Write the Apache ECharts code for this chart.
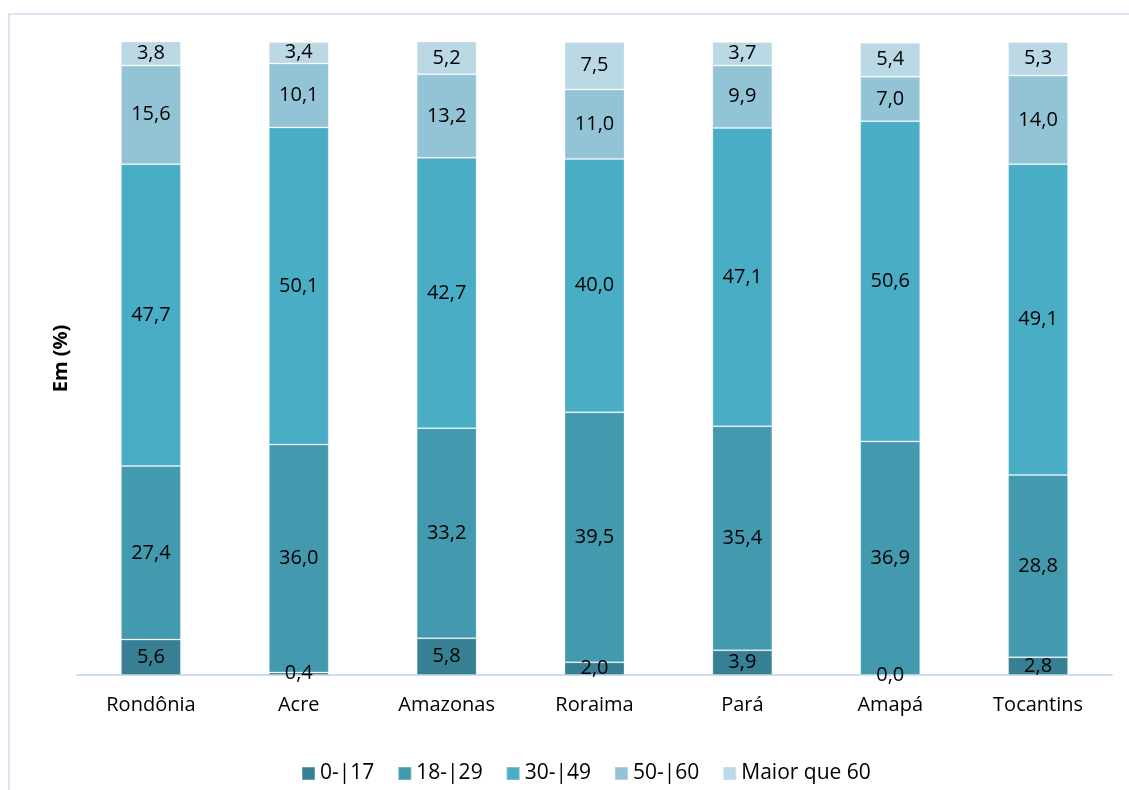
<!DOCTYPE html>
<html>
<head>
<meta charset="utf-8">
<script src="https://cdn.jsdelivr.net/npm/echarts@6/dist/echarts.min.js"></script>
<style>
  html, body { margin: 0; padding: 0; background: #ffffff; }
  #frame { position: absolute; left: 8px; top: 13px; width: 1140px; height: 800px;
           border: 2px solid #d9e5f4; box-sizing: border-box; }
  #chart { position: absolute; left: 0; top: 0; width: 1129px; height: 790px; }
</style>
</head>
<body>
<div id="frame"></div>
<div id="chart"></div>
<script>
// Estados da Região Norte
const categories = ['Rondônia', 'Acre', 'Amazonas', 'Roraima', 'Pará', 'Amapá', 'Tocantins'];

// Distribuição por faixa etária (%)
const faixa0a17  = [5.6, 0.4, 5.8, 2.0, 3.9, 0.0, 2.8];
const faixa18a29 = [27.4, 36.0, 33.2, 39.5, 35.4, 36.9, 28.8];
const faixa30a49 = [47.7, 50.1, 42.7, 40.0, 47.1, 50.6, 49.1];
const faixa50a60 = [15.6, 10.1, 13.2, 11.0, 9.9, 7.0, 14.0];
const faixa60mais = [3.8, 3.4, 5.2, 7.5, 3.7, 5.4, 5.3];

const seriesNames = ['0-|17', '18-|29', '30-|49', '50-|60', 'Maior que 60'];
const seriesData = [faixa0a17, faixa18a29, faixa30a49, faixa50a60, faixa60mais];
const colors = ['#377f93', '#4399ae', '#4aadc6', '#93c4d5', '#bbd9e4'];

const fontFamily = '"Open Sans", Lato, sans-serif';
const fontSize = 20;

const chart = echarts.init(document.getElementById('chart'), null, { renderer: 'canvas' });

chart.setOption({
  animation: false,
  color: colors,
  textStyle: { fontFamily: fontFamily },
  grid: { left: 77, right: 17, top: 42, bottom: 115 },
  legend: {
    bottom: 1,
    left: 296,
    itemWidth: 13,
    itemHeight: 13,
    itemGap: 23,
    icon: 'rect',
    textStyle: { fontSize: 21, color: '#000', fontFamily: fontFamily },
    data: seriesNames
  },
  xAxis: {
    type: 'category',
    data: categories,
    axisLine: { lineStyle: { color: '#cddcef', width: 2 } },
    axisTick: { show: false },
    axisLabel: { fontSize: fontSize, color: '#000', margin: 20, fontFamily: fontFamily }
  },
  yAxis: {
    type: 'value',
    min: 0,
    max: 100,
    name: 'Em (%)',
    nameLocation: 'middle',
    nameGap: 6,
    nameTextStyle: { fontSize: fontSize, fontWeight: 'bold', color: '#000', fontFamily: fontFamily },
    axisLine: { show: false },
    axisTick: { show: false },
    axisLabel: { show: false },
    splitLine: { show: false }
  },
  series: seriesData.map((d, i) => ({
    name: seriesNames[i],
    type: 'bar',
    stack: 'total',
    barWidth: 60,
    data: d,
    itemStyle: { borderColor: 'rgba(255,255,255,0.25)', borderWidth: 1 },
    label: {
      show: true,
      position: 'inside',
      fontSize: fontSize,
      color: '#000',
      fontFamily: fontFamily,
      formatter: p => p.value.toFixed(1).replace('.', ',')
    },
    labelLayout: { hideOverlap: false }
  }))
});
</script>
</body>
</html>
